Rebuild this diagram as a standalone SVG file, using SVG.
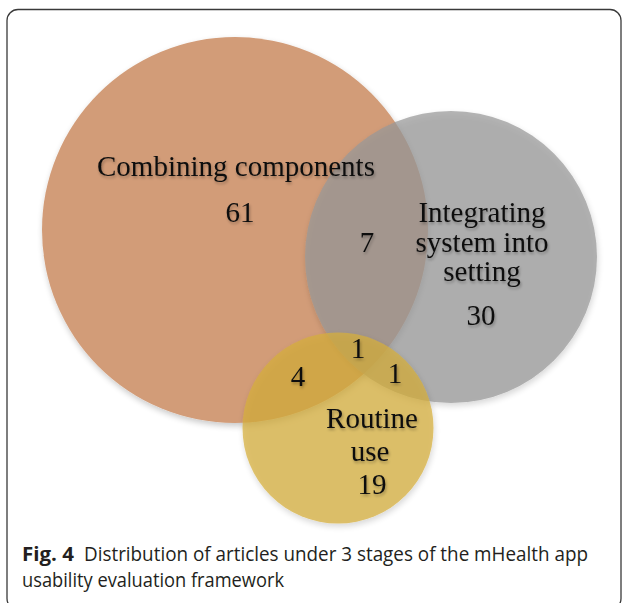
<svg xmlns="http://www.w3.org/2000/svg" width="624" height="603" viewBox="0 0 624 603">
  <style>
    .lbl { font-family: "Liberation Serif", "Times New Roman", serif; font-size: 29px; fill: #111; text-anchor: middle; }
    .cap { font-family: "Open Sans", "Liberation Sans", sans-serif; font-size: 20px; fill: #231f20; }
  </style>
  <defs>
    <filter id="soft" x="-10%" y="-10%" width="120%" height="120%">
      <feGaussianBlur in="SourceAlpha" stdDeviation="3"/>
      <feOffset dx="1" dy="3" result="b"/>
      <feComponentTransfer><feFuncA type="linear" slope="0.22"/></feComponentTransfer>
      <feMerge><feMergeNode/><feMergeNode in="SourceGraphic"/></feMerge>
    </filter>
    <filter id="tshadow" x="-10%" y="-20%" width="120%" height="150%">
      <feGaussianBlur in="SourceAlpha" stdDeviation="1.5"/>
      <feOffset dx="1" dy="2"/>
      <feComponentTransfer><feFuncA type="linear" slope="0.3"/></feComponentTransfer>
      <feMerge><feMergeNode/><feMergeNode in="SourceGraphic"/></feMerge>
    </filter>
  </defs>
  <rect width="624" height="603" fill="#ffffff"/>
  <rect x="7" y="9.5" width="614" height="600" rx="11" fill="none" stroke="#3a3a3a" stroke-width="1.3"/>

  <g id="combining-components" filter="url(#soft)">
    <circle cx="235" cy="230" r="193" fill="#d29c78"/>
  </g>
  <g id="integrating-system" filter="url(#soft)">
    <circle cx="451" cy="257" r="146" fill="#989898" fill-opacity="0.72"/>
  </g>
  <g id="routine-use" filter="url(#soft)">
    <circle cx="338" cy="428" r="95.5" fill="#d6ae3a" fill-opacity="0.72"/>
  </g>

  <g id="labels" filter="url(#tshadow)">
    <text class="lbl" x="236" y="176">Combining components</text>
    <text class="lbl" x="240" y="222">61</text>
    <text class="lbl" x="367" y="252">7</text>
    <text class="lbl" x="482" y="222">Integrating</text>
    <text class="lbl" x="482" y="252">system into</text>
    <text class="lbl" x="482" y="281">setting</text>
    <text class="lbl" x="481" y="325">30</text>
    <text class="lbl" x="358" y="358">1</text>
    <text class="lbl" x="298" y="386">4</text>
    <text class="lbl" x="395" y="383">1</text>
    <text class="lbl" x="372" y="428">Routine</text>
    <text class="lbl" x="370" y="461">use</text>
    <text class="lbl" x="372" y="494">19</text>
  </g>

  <g id="caption">
    <text class="cap" x="22" y="561" font-weight="bold" textLength="52" lengthAdjust="spacingAndGlyphs">Fig. 4</text>
    <text class="cap" x="84" y="561" textLength="504" lengthAdjust="spacingAndGlyphs">Distribution of articles under 3 stages of the mHealth app</text>
    <text class="cap" x="22" y="587" textLength="262" lengthAdjust="spacingAndGlyphs">usability evaluation framework</text>
  </g>
</svg>
